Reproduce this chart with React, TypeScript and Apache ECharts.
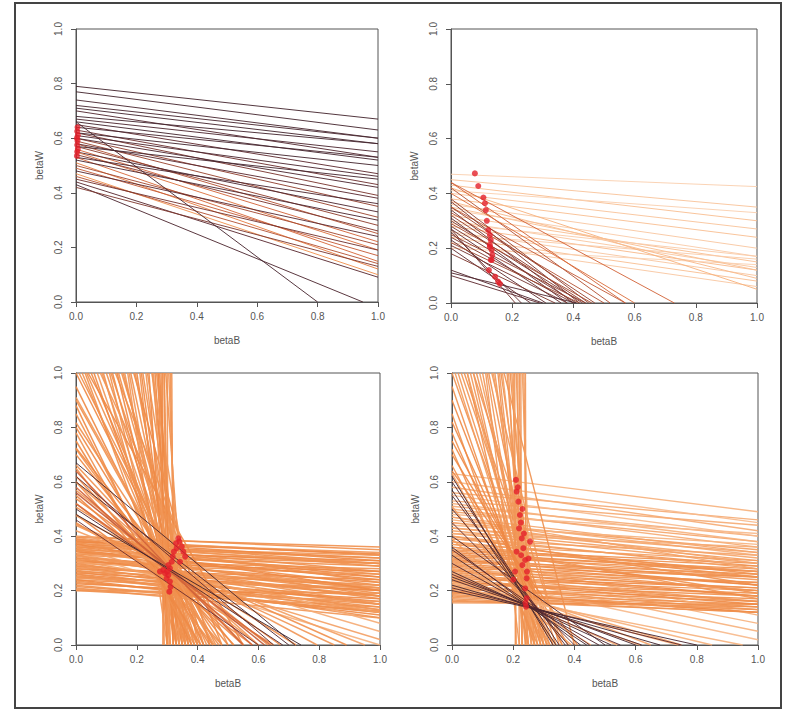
import React, { useEffect, useRef } from "react";
import * as echarts from "echarts";

const X_NAME = "betaB";
const Y_NAME = "betaW";
const TICK_STEP = 0.2;

// Tomography lines: [betaW where betaB = 0, betaB where betaW = 0, shade (0 dark .. 1 light)]
const LINES_TL: number[][] = [
  [0.79, 6.58, 0.08], [0.77, 5.5, 0.08], [0.74, 5.29, 0.1], [0.72, 6.0, 0.1], [0.71, 5.46, 0.08],
  [0.70, 4.12, 0.15], [0.68, 6.8, 0.08], [0.67, 5.58, 0.12], [0.66, 4.71, 0.08], [0.65, 3.61, 0.2],
  [0.64, 5.82, 0.1], [0.63, 3.15, 0.25], [0.62, 2.7, 0.3], [0.62, 5.17, 0.08], [0.61, 4.07, 0.12],
  [0.60, 2.4, 0.38], [0.60, 3.33, 0.12], [0.59, 2.11, 0.42], [0.58, 1.76, 0.5], [0.58, 2.9, 0.18],
  [0.57, 1.97, 0.38], [0.57, 4.75, 0.08], [0.56, 1.65, 0.6], [0.55, 2.5, 0.12], [0.55, 1.53, 0.66],
  [0.54, 1.93, 0.32], [0.53, 1.39, 0.62], [0.53, 3.12, 0.12], [0.52, 2.36, 0.12], [0.51, 1.31, 0.72],
  [0.50, 1.72, 0.45], [0.49, 1.53, 0.55], [0.48, 2.0, 0.18], [0.47, 1.27, 0.8], [0.46, 1.44, 0.5],
  [0.45, 1.73, 0.28], [0.44, 1.26, 0.18], [0.43, 0.95, 0.12], [0.42, 1.45, 0.32], [0.66, 0.80, 0.1],
];

const LINES_TR: number[][] = [
  // flat, light lines
  [0.47, 10.4, 0.97], [0.45, 4.5, 0.94], [0.43, 3.31, 0.93], [0.41, 5.1, 0.97], [0.40, 3.08, 0.94],
  [0.38, 2.71, 0.93], [0.36, 2.25, 0.95], [0.34, 2.0, 0.96], [0.32, 1.88, 0.93], [0.30, 1.76, 0.95],
  [0.28, 1.75, 0.92], [0.26, 1.625, 0.95], [0.25, 2.78, 0.96], [0.24, 1.5, 0.93], [0.22, 1.375, 0.95],
  [0.20, 3.33, 0.97], [0.42, 1.135, 0.9], [0.37, 1.32, 0.92], [0.29, 2.42, 0.96], [0.35, 1.52, 0.93],
  // steeper lines
  [0.44, 0.73, 0.6], [0.44, 0.57, 0.6], [0.42, 0.52, 0.5], [0.40, 0.60, 0.65], [0.35, 0.57, 0.55],
  [0.33, 0.50, 0.5], [0.38, 0.45, 0.4], [0.37, 0.42, 0.32], [0.35, 0.47, 0.42], [0.34, 0.40, 0.28],
  [0.32, 0.44, 0.38], [0.31, 0.38, 0.22], [0.30, 0.43, 0.32], [0.29, 0.46, 0.45], [0.28, 0.41, 0.28],
  [0.27, 0.36, 0.22], [0.27, 0.21, 0.28], [0.26, 0.23, 0.22], [0.25, 0.44, 0.38], [0.24, 0.40, 0.32],
  [0.23, 0.31, 0.22], [0.22, 0.42, 0.42], [0.21, 0.38, 0.28], [0.20, 0.26, 0.22], [0.18, 0.34, 0.32],
  [0.12, 0.30, 0.15], [0.11, 0.41, 0.15], [0.10, 0.29, 0.2],
];

const LINES_BL: number[][] = [
  // near-horizontal band
  [0.40, 8.0, 0.8], [0.39, 6.5, 0.78], [0.38, 9.5, 0.82], [0.38, 4.75, 0.8], [0.37, 7.4, 0.78],
  [0.37, 3.7, 0.8], [0.36, 12, 0.82], [0.36, 3.27, 0.78], [0.35, 7.0, 0.8], [0.35, 2.69, 0.8],
  [0.34, 11.3, 0.78], [0.34, 4.86, 0.8], [0.33, 2.54, 0.82], [0.33, 8.25, 0.8], [0.32, 4.57, 0.78],
  [0.32, 2.13, 0.8], [0.31, 10.3, 0.8], [0.31, 3.875, 0.78], [0.30, 2.0, 0.8], [0.30, 7.5, 0.82],
  [0.29, 3.625, 0.8], [0.29, 1.81, 0.8], [0.28, 7.0, 0.78], [0.28, 2.8, 0.8], [0.27, 1.8, 0.82],
  [0.27, 5.4, 0.8], [0.26, 2.6, 0.78], [0.26, 1.625, 0.8], [0.25, 5.0, 0.8], [0.25, 2.08, 0.82],
  [0.24, 4.0, 0.8], [0.24, 1.85, 0.78], [0.23, 2.875, 0.8], [0.22, 2.2, 0.8], [0.21, 1.9, 0.82],
  [0.20, 3.33, 0.8], [0.20, 20, 0.8], [0.38, 1.15, 0.88], [0.36, 1.06, 0.85], [0.34, 1.0, 0.9],
  [0.40, 1.25, 0.88],
  [0.395, 11.3, 0.8], [0.385, 5.13, 0.78], [0.375, 4.41, 0.8], [0.365, 5.6, 0.82], [0.355, 3.74, 0.8],
  [0.345, 3.29, 0.78], [0.335, 9.57, 0.8], [0.325, 2.83, 0.82], [0.315, 2.52, 0.8], [0.305, 8.71, 0.78],
  [0.295, 2.57, 0.8], [0.285, 4.38, 0.82], [0.275, 2.2, 0.8], [0.265, 4.08, 0.78], [0.255, 2.22, 0.8],
  [0.245, 7.0, 0.82], [0.235, 2.04, 0.8], [0.225, 4.09, 0.78], [0.215, 2.39, 0.8], [0.205, 4.56, 0.82],
  [0.39, 2.44, 0.8], [0.37, 2.18, 0.78], [0.35, 2.06, 0.8], [0.33, 1.83, 0.82], [0.31, 1.63, 0.84],
  [0.36, 9.0, 0.8], [0.38, 8.44, 0.78],
  // steep lines
  [1.0, 0.45, 0.78], [1.053, 0.40, 0.8], [1.135, 0.42, 0.78], [1.226, 0.38, 0.82], [1.333, 0.40, 0.8],
  [1.5, 0.36, 0.78], [1.56, 0.39, 0.8], [1.842, 0.35, 0.82], [1.947, 0.37, 0.8], [2.43, 0.34, 0.78],
  [2.57, 0.36, 0.8], [3.3, 0.33, 0.82], [3.5, 0.35, 0.8], [5.33, 0.32, 0.78], [4.86, 0.34, 0.8],
  [29, 0.29, 0.8], [286, 0.286, 0.78], [15.5, 0.31, 0.8], [101, 0.303, 0.82], [16.5, 0.33, 0.8],
  [64, 0.32, 0.8], [5.0, 0.30, 0.78], [3.1, 0.31, 0.8], [2.31, 0.30, 0.82], [1.5, 0.33, 0.8],
  [1.76, 0.44, 0.78], [1.37, 0.48, 0.8], [1.19, 0.50, 0.82], [1.09, 0.36, 0.8], [1.078, 0.55, 0.78],
  [1.36, 0.34, 0.8], [1.556, 0.42, 0.8], [10, 0.30, 0.78], [5.54, 0.36, 0.8], [2.67, 0.40, 0.82],
  [1.088, 0.43, 0.8], [1.19, 0.37, 0.78], [1.28, 0.39, 0.82], [1.39, 0.41, 0.8], [1.63, 0.35, 0.78],
  [1.69, 0.38, 0.8], [2.13, 0.33, 0.82], [2.18, 0.36, 0.8], [2.87, 0.33, 0.78], [2.74, 0.37, 0.8],
  [5.64, 0.31, 0.82], [4.12, 0.35, 0.8], [7.1, 0.32, 0.78], [30, 0.30, 0.8], [9.7, 0.34, 0.82],
  [1.022, 0.46, 0.8],
  // moderate slopes from the left edge
  [0.95, 0.42, 0.78], [0.90, 0.45, 0.8], [0.88, 0.38, 0.78], [0.85, 0.40, 0.8], [0.80, 0.44, 0.78],
  [0.78, 0.39, 0.8], [0.75, 0.41, 0.78], [0.72, 0.47, 0.8], [0.70, 0.50, 0.78], [0.65, 0.45, 0.8],
  [0.62, 0.52, 0.78], [0.60, 0.48, 0.8], [0.55, 0.55, 0.78], [0.52, 0.60, 0.8], [0.48, 0.58, 0.78],
  [0.45, 0.65, 0.8], [0.44, 0.85, 0.82], [0.42, 0.95, 0.85],
  [0.445, 0.89, 0.8], [0.476, 0.793, 0.82], [0.507, 0.724, 0.8], [0.538, 0.6725, 0.78], [0.569, 0.632, 0.8],
  [0.60, 0.60, 0.82], [0.662, 0.552, 0.8], [0.724, 0.517, 0.78], [0.817, 0.48, 0.8], [0.91, 0.455, 0.82],
  [0.64, 0.55, 0.6], [0.56, 0.62, 0.55], [0.52, 0.64, 0.62], [0.58, 0.58, 0.6],
  // dark lines
  [0.67, 0.72, 0.08], [0.62, 0.65, 0.22], [0.60, 0.70, 0.12], [0.50, 0.68, 0.15], [0.48, 0.74, 0.05],
  [0.46, 0.60, 0.25],
];

const LINES_BR: number[][] = [
  // dense near-horizontal band
  [0.35, 7.0, 0.8], [0.34, 4.86, 0.78], [0.33, 6.6, 0.8], [0.32, 4.0, 0.82], [0.31, 6.2, 0.8],
  [0.30, 3.75, 0.78], [0.29, 7.25, 0.8], [0.28, 3.5, 0.8], [0.27, 6.75, 0.82], [0.26, 3.25, 0.8],
  [0.25, 6.25, 0.78], [0.24, 3.0, 0.8], [0.23, 5.75, 0.8], [0.22, 2.75, 0.82], [0.21, 5.25, 0.8],
  [0.20, 2.5, 0.78], [0.19, 4.75, 0.8], [0.18, 3.6, 0.8], [0.17, 3.4, 0.82], [0.16, 8.0, 0.8],
  [0.155, 31, 0.8], [0.37, 3.08, 0.8], [0.39, 3.9, 0.82], [0.40, 2.22, 0.8], [0.42, 3.82, 0.84],
  [0.36, 2.12, 0.8], [0.38, 1.81, 0.82], [0.33, 1.5, 0.88], [0.30, 1.36, 0.9], [0.28, 1.22, 0.9],
  [0.26, 1.08, 0.92],
  [0.345, 6.27, 0.8], [0.335, 3.94, 0.82], [0.325, 5.9, 0.8], [0.315, 3.32, 0.78], [0.305, 5.55, 0.8],
  [0.295, 3.1, 0.82], [0.285, 5.18, 0.8], [0.275, 2.89, 0.78], [0.265, 4.82, 0.8], [0.255, 2.68, 0.82],
  [0.245, 5.44, 0.8], [0.235, 2.76, 0.78], [0.225, 5.0, 0.8], [0.215, 2.53, 0.82], [0.205, 4.56, 0.8],
  [0.195, 2.6, 0.78], [0.185, 4.11, 0.8], [0.175, 3.89, 0.82], [0.165, 3.67, 0.8], [0.36, 4.0, 0.82],
  [0.38, 3.17, 0.8], [0.40, 3.33, 0.84],
  [0.37, 6.17, 0.84], [0.39, 6.5, 0.86], [0.41, 3.73, 0.84], [0.43, 3.9, 0.86], [0.45, 4.5, 0.84],
  [0.47, 3.6, 0.86], [0.49, 4.45, 0.86], [0.51, 4.64, 0.88], [0.53, 5.9, 0.88], [0.56, 5.6, 0.88],
  // lighter upper lines
  [0.63, 4.5, 0.9], [0.60, 4.0, 0.92], [0.58, 3.625, 0.88], [0.55, 3.67, 0.92], [0.52, 3.71, 0.9],
  [0.50, 3.57, 0.88], [0.48, 6.86, 0.92], [0.46, 3.54, 0.88], [0.45, 3.0, 0.86], [0.44, 6.29, 0.9],
  [0.43, 4.78, 0.86], [0.47, 2.47, 0.86], [0.41, 8.2, 0.88],
  // steep lines
  [1.0, 0.32, 0.8], [1.071, 0.30, 0.82], [1.133, 0.34, 0.8], [1.273, 0.28, 0.82], [1.348, 0.31, 0.8],
  [1.588, 0.27, 0.82], [1.667, 0.30, 0.8], [2.167, 0.26, 0.82], [2.23, 0.29, 0.8], [3.57, 0.25, 0.82],
  [3.375, 0.27, 0.8], [21, 0.21, 0.82], [103, 0.207, 0.8], [8.0, 0.24, 0.82], [23, 0.23, 0.8],
  [76, 0.228, 0.82], [24.5, 0.245, 0.8], [121, 0.242, 0.82], [2.67, 0.24, 0.8], [2.0, 0.22, 0.82],
  [1.25, 0.25, 0.8], [1.59, 0.35, 0.82], [1.74, 0.40, 0.8], [1.24, 0.36, 0.82],
  [1.036, 0.29, 0.84], [1.1, 0.33, 0.82], [1.208, 0.29, 0.84], [1.35, 0.27, 0.82], [1.43, 0.30, 0.84],
  [1.79, 0.26, 0.82], [1.93, 0.28, 0.84], [2.63, 0.25, 0.82], [2.57, 0.27, 0.84], [5.11, 0.23, 0.82],
  [4.0, 0.26, 0.84], [44, 0.22, 0.82], [8.67, 0.26, 0.84],
  // moderate slopes from the left edge
  [0.95, 0.29, 0.8], [0.90, 0.31, 0.78], [0.85, 0.27, 0.8], [0.82, 0.33, 0.78], [0.78, 0.30, 0.8],
  [0.75, 0.36, 0.78], [0.72, 0.28, 0.8], [0.70, 0.38, 0.78], [0.66, 0.32, 0.8], [0.64, 0.41, 0.78],
  // light lines to the lower right
  [0.23, 0.85, 0.9], [0.21, 0.95, 0.9], [0.25, 0.75, 0.86], [0.28, 0.65, 0.86],
  [0.222, 0.74, 0.88], [0.246, 0.615, 0.86], [0.27, 0.54, 0.88], [0.318, 0.454, 0.86], [0.39, 0.39, 0.84],
  [0.51, 0.34, 0.84], [0.63, 0.315, 0.84],
  // dark lines
  [0.62, 0.33, 0.1], [0.60, 0.35, 0.15], [0.57, 0.34, 0.08], [0.55, 0.37, 0.2], [0.50, 0.38, 0.12],
  [0.45, 0.40, 0.2], [0.40, 0.50, 0.15], [0.36, 0.42, 0.1], [0.35, 0.45, 0.2], [0.33, 0.44, 0.08],
  [0.30, 0.48, 0.15], [0.27, 0.52, 0.1], [0.26, 0.55, 0.2], [0.25, 0.60, 0.1], [0.24, 0.62, 0.15],
  [0.22, 0.68, 0.08], [0.21, 0.75, 0.2], [0.20, 0.80, 0.1],
];

// Estimated points [betaB, betaW]
const POINTS_TL: number[][] = [
  [0.005, 0.64], [0.004, 0.625], [0.006, 0.61], [0.003, 0.60], [0.005, 0.59],
  [0.004, 0.575], [0.006, 0.56], [0.004, 0.55], [0.003, 0.535],
];
const POINTS_TR: number[][] = [
  [0.078, 0.473], [0.089, 0.427], [0.106, 0.385], [0.111, 0.364], [0.114, 0.339],
  [0.117, 0.30], [0.122, 0.266], [0.127, 0.248], [0.13, 0.23], [0.127, 0.212],
  [0.133, 0.193], [0.135, 0.175], [0.13, 0.157], [0.124, 0.12], [0.144, 0.096],
  [0.154, 0.078], [0.16, 0.07], [0.127, 0.205], [0.133, 0.157],
];
const POINTS_BL: number[][] = [
  [0.276, 0.27], [0.293, 0.264], [0.309, 0.282], [0.309, 0.233], [0.307, 0.196],
  [0.315, 0.306], [0.322, 0.343], [0.329, 0.374], [0.337, 0.392], [0.348, 0.362],
  [0.359, 0.325], [0.342, 0.306], [0.298, 0.245], [0.287, 0.276], [0.304, 0.294],
  [0.318, 0.325], [0.331, 0.356], [0.353, 0.343], [0.311, 0.214], [0.304, 0.257],
  [0.34, 0.38], [0.30, 0.27],
];
const POINTS_BR: number[][] = [
  [0.209, 0.607], [0.211, 0.564], [0.217, 0.527], [0.222, 0.478], [0.219, 0.429],
  [0.228, 0.392], [0.233, 0.356], [0.239, 0.3125], [0.23, 0.294], [0.244, 0.245],
  [0.239, 0.208], [0.244, 0.172], [0.242, 0.141], [0.255, 0.38], [0.25, 0.318],
  [0.206, 0.27], [0.211, 0.343], [0.2, 0.24], [0.225, 0.45], [0.235, 0.41],
  [0.23, 0.5], [0.215, 0.58], [0.245, 0.27], [0.226, 0.33], [0.24, 0.155],
];

const PANEL_LINES = [LINES_TL, LINES_TR, LINES_BL, LINES_BR];
const PANEL_POINTS = [POINTS_TL, POINTS_TR, POINTS_BL, POINTS_BR];
const PANEL_LINE_WIDTH = [1, 1, 1.5, 1.4];

const GRIDS = [
  { left: 76, top: 29, width: 302, height: 273 },
  { left: 451, top: 29, width: 306, height: 274 },
  { left: 76, top: 373, width: 304, height: 272 },
  { left: 452, top: 373, width: 306, height: 272 },
];

const STOPS: [number, string][] = [
  [0, "#33232f"], [0.2, "#5e2a30"], [0.4, "#94402e"], [0.6, "#d3643a"],
  [0.78, "#ef8a45"], [0.9, "#f6b27e"], [1, "#fcdcc4"],
];

function hexToRgb(h: string) {
  return [1, 3, 5].map((i) => parseInt(h.slice(i, i + 2), 16));
}
function shadeColor(s: number) {
  for (let i = 0; i < STOPS.length - 1; i++) {
    const [a, ca] = STOPS[i];
    const [b, cb] = STOPS[i + 1];
    if (s <= b) {
      const t = (s - a) / (b - a);
      const A = hexToRgb(ca), B = hexToRgb(cb);
      const c = A.map((v, k) => Math.round(v + (B[k] - v) * t));
      return `rgb(${c[0]},${c[1]},${c[2]})`;
    }
  }
  return STOPS[STOPS.length - 1][1];
}

// segment of the line inside the unit square
function segment(wInt: number, bInt: number) {
  const p0 = wInt <= 1 ? [0, wInt] : [bInt * (1 - 1 / wInt), 1];
  const p1 = bInt <= 1 ? [bInt, 0] : [1, wInt * (1 - 1 / bInt)];
  return [p0, p1];
}

const FONT = "Liberation Sans, Arial, sans-serif";
const TEXT_COLOR = "#555";
const AXIS_COLOR = "#555";

export default function App() {
  const ref = useRef<HTMLDivElement>(null);
  useEffect(() => {
    if (!ref.current) return;
    const chart = echarts.init(ref.current, undefined, { renderer: "svg" });
    const axisCommon = (i: number) => ({
      gridIndex: i,
      type: "value",
      min: 0,
      max: 1,
      interval: TICK_STEP,
      splitLine: { show: false },
      axisLine: { show: true, onZero: false, lineStyle: { color: AXIS_COLOR, width: 1 } },
      axisTick: { show: true, inside: false, length: 5, lineStyle: { color: AXIS_COLOR } },
      nameLocation: "middle",
      nameTextStyle: { fontFamily: FONT, fontSize: 10, color: TEXT_COLOR },
    });
    const option: any = {
      animation: false,
      backgroundColor: "#fff",
      grid: GRIDS.map((g) => ({ ...g, show: true, borderColor: AXIS_COLOR, borderWidth: 1, backgroundColor: "transparent" })),
      xAxis: GRIDS.map((_, i) => ({
        ...axisCommon(i),
        name: X_NAME,
        nameGap: 33,
        axisLabel: { formatter: (v: number) => v.toFixed(1), fontFamily: FONT, fontSize: 10, color: TEXT_COLOR, margin: 9 },
      })),
      yAxis: GRIDS.map((_, i) => ({
        ...axisCommon(i),
        name: Y_NAME,
        nameGap: 32,
        axisLabel: { formatter: (v: number) => v.toFixed(1), fontFamily: FONT, fontSize: 10, color: TEXT_COLOR, margin: 13, rotate: 90 },
      })),
      graphic: [
        {
          type: "rect",
          shape: { x: 15, y: 3, width: 766, height: 705 },
          style: { fill: "none", stroke: "#444", lineWidth: 2 },
          silent: true,
        },
      ],
      series: [
        ...PANEL_LINES.map((lines, i) => ({
          type: "lines",
          coordinateSystem: "cartesian2d",
          xAxisIndex: i,
          yAxisIndex: i,
          polyline: false,
          silent: true,
          z: 2,
          lineStyle: { width: PANEL_LINE_WIDTH[i], opacity: 0.92 },
          data: lines.map(([w, b, s]) => ({
            coords: segment(w, b),
            lineStyle: { color: shadeColor(s), width: s < 0.4 ? 1 : PANEL_LINE_WIDTH[i], opacity: 0.92 },
          })),
        })),
        ...PANEL_POINTS.map((pts, i) => ({
          type: "scatter",
          xAxisIndex: i,
          yAxisIndex: i,
          data: pts,
          symbolSize: 6,
          clip: false,
          silent: true,
          z: 5,
          itemStyle: { color: "#e3202a" },
        })),
      ],
    };
    chart.setOption(option);
    return () => chart.dispose();
  }, []);
  return (
    <div
      ref={ref}
      style={{ position: "fixed", left: 0, top: 0, width: 785, height: 711, background: "#fff" }}
    />
  );
}
